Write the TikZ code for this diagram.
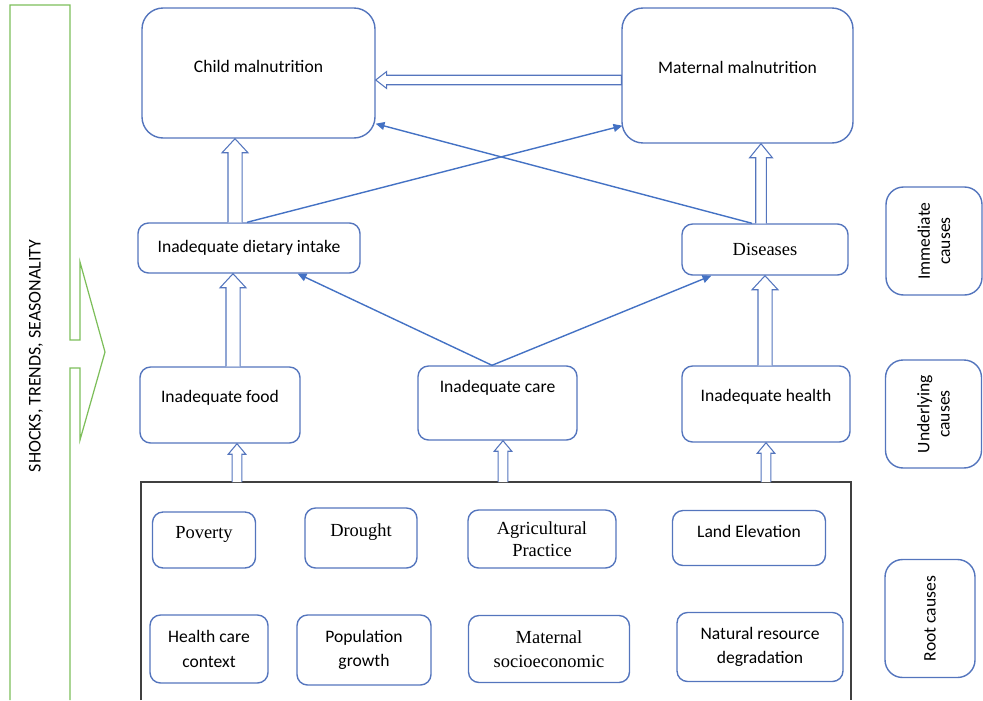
\documentclass[tikz,border=0pt]{standalone}
\usepackage{fontspec}
\setmainfont{Carlito}
\newfontfamily\tms{Liberation Serif}
\usetikzlibrary{calc,arrows.meta}
\definecolor{boxblue}{RGB}{84,117,189}
\definecolor{lineblue}{RGB}{68,114,196}
\definecolor{shockgreen}{RGB}{125,190,90}
% hollow block arrow pointing up: style, x (px), lower anchor, upper anchor, shaft half, head half, head length
\newcommand{\blockup}[7]{\draw[#1] let \p1=(#3), \p2=(#4), \p3=(#2,0) in
  (\x3-#5,\y1) -- (\x3-#5,\y2-#7) -- (\x3-#6,\y2-#7) -- (\x3,\y2) -- (\x3+#6,\y2-#7) -- (\x3+#5,\y2-#7) -- (\x3+#5,\y1);}
\tikzset{
  sz/.style 2 args={minimum width=#1*0.02cm, minimum height=#2*0.02cm},
  box/.style={draw=boxblue, line width=0.8pt, rounded corners=6pt, inner sep=0pt, align=center, font=\fontsize{10}{13}\selectfont},
  bigbox/.style={box, rounded corners=12pt},
  sidebox/.style={box, rounded corners=10pt, rotate=90, font=\fontsize{10}{11.5}\selectfont},
  link/.style={draw=lineblue, line width=0.8pt, -{Triangle[length=5pt,width=4.5pt]}},
  hollow/.style={draw=boxblue, line width=0.6pt, fill=white},
  frame/.style={draw=black!75, line width=0.8pt}
}

\begin{document}
\begin{tikzpicture}[x=0.02cm, y=-0.02cm]
	%%%%% START %%%%%
	\useasboundingbox (0,0) rectangle (983,700);
	
	% shocks band
	\draw[shockgreen, line width=0.7pt] (10,700) -- (10,5) -- (70,5) -- (70,340) -- (80,340) -- (80,262) -- (105,352) -- (80,440) -- (80,368) -- (70,368) -- (70,700);
	\node[rotate=90, font=\fontsize{10.2}{12}\selectfont] (shocks) at (36,356) {SHOCKS, TRENDS, SEASONALITY};
	
	% outcomes
	\node[bigbox, sz={233}{130}, text depth=8pt] (child) at (258.5,73) {Child malnutrition};
	\node[bigbox, sz={231}{135}, text depth=9pt] (mat) at (737.5,75.5) {Maternal malnutrition};
	
	% immediate causes
	\node[box, sz={222}{50}] (diet) at (249,248) {Inadequate dietary intake};
	\node[box, sz={166}{51}, font=\fontsize{10.5}{13}\tms] (dis) at (765,249.5) {Diseases};
	
	% underlying causes
	\node[box, sz={160}{76}, text depth=10pt] (food) at (220,405) {Inadequate food};
	\node[box, sz={159}{74}, text depth=19pt] (care) at (497.5,403) {Inadequate care};
	\node[box, sz={168}{76}, text depth=10pt] (health) at (766,404) {Inadequate health};
	
	% root causes
	\coordinate (rtl) at (141,482);
	\draw[frame] (141,700) -- (rtl) -- (851,482) -- (851,700);
	\node[box, sz={103}{56}, font=\fontsize{10.5}{13}\tms, text depth=9pt] (pov) at (204,540) {Poverty};
	\node[box, sz={112}{60}, font=\fontsize{10.5}{13}\tms, text depth=9pt] (dro) at (361,538) {Drought};
	\node[box, sz={148}{58}, font=\fontsize{10.5}{12.5}\tms] (agr) at (542,539) {Agricultural\\Practice};
	\node[box, sz={153}{55}, text depth=8pt] (land) at (749,538) {Land Elevation};
	\node[box, sz={118}{68}, font=\fontsize{10}{14}\selectfont] (hcc) at (209,649) {Health care\\context};
	\node[box, sz={134}{70}, font=\fontsize{10}{14}\selectfont] (pop) at (364,650) {Population\\growth};
	\node[box, sz={161}{67}, font=\fontsize{10.5}{14}\tms] (mse) at (549,649) {Maternal\\socioeconomic};
	\node[box, sz={166}{69}, font=\fontsize{10}{14}\selectfont] (nrd) at (760,647) {Natural resource\\degradation};
	
	% level labels
	\node[sidebox, sz={108}{96}] (imm) at (934,241) {Immediate\\causes};
	\node[sidebox, sz={108}{96}] (und) at (933.5,414) {Underlying\\causes};
	\node[sidebox, sz={118}{90}] (rootc) at (930,618.5) {Root causes};
	
	% block arrows
	\blockup{hollow}{235}{diet.north}{child.south}{4pt}{7.4pt}{8pt}
	\blockup{hollow}{761}{dis.north}{mat.south}{3pt}{6.5pt}{8pt}
	\blockup{hollow}{233}{food.north}{diet.south}{4pt}{7.4pt}{8pt}
	\blockup{hollow}{765}{health.north}{dis.south}{4pt}{7.4pt}{8pt}
	\blockup{hollow}{237}{rtl}{food.south}{2.8pt}{5pt}{6pt}
	\blockup{hollow}{503}{rtl}{care.south}{2.8pt}{5pt}{6pt}
	\blockup{hollow}{766}{rtl}{health.south}{2.8pt}{5pt}{6pt}
	\draw[hollow] let \p1=(mat.west), \p2=(child.east), \p3=(0,80) in
	  (\x1,\y3+2.7pt) -- (\x2+6.2pt,\y3+2.7pt) -- (\x2+6.2pt,\y3+4.8pt) -- (\x2,\y3) -- (\x2+6.2pt,\y3-4.8pt) -- (\x2+6.2pt,\y3-2.7pt) -- (\x1,\y3-2.7pt) -- cycle;
	
	% cross links
	\draw[link] ($(diet.north)+(-2,0)$) -- ($(mat.south west)+(1,-18)$);
	\draw[link] ($(dis.north)+(-13,0)$) -- ($(child.south east)+(0,-15)$);
	\draw[link] (care.north -| 492,0) -- ($(diet.south east)+(-63,0)$);
	\draw[link] (care.north -| 492,0) -- ($(dis.south west)+(30,0)$);
	
	%%%%% END %%%%%
\end{tikzpicture}
\end{document}
